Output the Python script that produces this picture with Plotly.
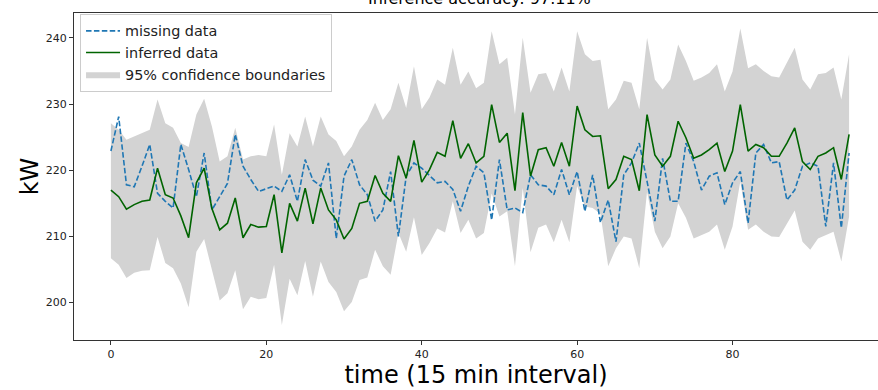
import plotly.graph_objects as go

# ---- data ----
time_idx = list(range(96))

missing_data = [
    222.9, 228.1, 217.8, 217.5, 220.6, 223.9, 216.5, 215.3, 214.3, 223.9, 220.1, 216.0, 222.6, 214.0, 216.0, 218.0, 225.4, 220.6, 218.6, 216.8, 217.2,
    217.6, 216.8, 219.3, 215.3, 221.6, 218.5, 217.6, 221.1, 209.7, 219.1, 221.6, 217.8, 216.3, 212.3, 214.0, 219.8, 210.0, 219.1, 221.1,
    220.3, 219.2, 218.1, 218.3, 217.1, 213.8, 217.6, 220.6, 219.6, 212.5, 221.6, 214.0, 214.3, 213.6, 219.3, 217.8, 217.6, 216.3, 220.1, 216.3, 219.8,
    213.8, 219.3, 212.1, 215.5, 209.2, 219.3, 221.1, 224.1, 218.3, 212.3, 221.8, 215.3, 215.3, 224.1, 221.3, 217.0, 219.1, 219.6, 214.8, 218.1, 219.8,
    212.0, 222.6, 223.9, 221.1, 221.3, 215.5, 217.0, 220.6, 221.1, 220.6, 211.5, 221.1, 211.3, 222.6,
]

inferred_data = [
    217.0, 216.0, 214.1, 214.8, 215.3, 215.5, 220.3, 216.3, 215.8, 213.1, 209.8, 218.1, 220.3, 214.2, 211.0, 212.0, 215.8, 209.8, 211.8, 211.4, 211.5,
    216.3, 207.5, 215.0, 212.3, 217.3, 211.9, 217.3, 214.0, 212.5, 209.6, 211.2, 215.0, 215.3, 219.2, 216.5, 215.3, 222.2, 218.8, 224.5,
    218.2, 220.1, 222.7, 222.1, 227.5, 221.8, 224.0, 221.1, 222.1, 229.9, 224.2, 225.6, 216.9, 228.7, 219.1, 223.1, 223.4, 220.6, 224.2, 220.6, 229.7,
    226.1, 225.1, 225.2, 217.2, 218.6, 222.1, 221.6, 216.9, 228.4, 222.3, 220.6, 222.1, 227.4, 224.9, 221.8, 222.3, 223.1, 224.1, 219.8, 222.9, 229.9,
    222.9, 223.9, 223.4, 222.1, 222.1, 224.1, 226.4, 221.3, 220.1, 222.1, 222.6, 223.4, 218.6, 225.4,
]

upper_bound = [
    227.1, 226.1, 224.6, 225.1, 225.6, 226.1, 230.7, 227.1, 226.4, 224.1, 223.5, 228.4, 230.8, 226.6, 221.3, 222.1, 226.4, 221.6, 222.1, 222.3, 222.1,
    226.9, 219.3, 225.6, 223.6, 228.1, 223.6, 228.1, 225.4, 224.4, 222.1, 223.6, 226.1, 227.6, 230.2, 227.6, 229.2, 233.2, 229.4, 235.7,
    229.2, 231.0, 233.7, 232.9, 238.5, 232.9, 234.9, 232.4, 233.2, 241.0, 236.0, 237.0, 228.4, 240.0, 231.7, 234.5, 234.7, 231.9, 235.5, 231.9, 241.0,
    237.5, 236.5, 236.7, 229.2, 230.7, 233.5, 233.2, 229.2, 240.0, 233.7, 232.2, 233.7, 239.0, 236.5, 233.5, 234.0, 234.7, 236.0, 231.9, 234.9, 241.4,
    235.4, 236.0, 235.0, 234.2, 234.0, 236.2, 238.5, 233.7, 232.2, 234.5, 234.7, 235.5, 230.7, 237.5,
]

lower_bound = [
    206.7, 205.7, 203.7, 204.5, 204.8, 204.9, 209.9, 206.0, 205.2, 202.9, 199.3, 207.7, 209.6, 204.9, 200.3, 201.4, 204.9, 199.0, 200.9, 200.5, 200.7,
    205.7, 196.6, 203.6, 201.1, 206.3, 200.9, 206.2, 203.1, 201.6, 198.7, 200.1, 203.4, 203.8, 208.0, 205.5, 204.2, 210.5, 207.7, 212.9,
    207.2, 209.0, 211.2, 210.6, 215.3, 210.5, 212.5, 209.7, 210.5, 216.5, 213.0, 213.8, 205.5, 217.3, 207.6, 211.3, 211.8, 209.1, 212.5, 209.1, 217.6,
    214.5, 214.3, 213.4, 205.5, 208.2, 210.0, 209.7, 205.2, 216.8, 210.7, 208.2, 210.0, 215.0, 212.8, 209.7, 210.2, 210.7, 211.8, 208.0, 211.5, 218.3,
    211.0, 211.8, 210.7, 210.0, 209.9, 212.0, 213.9, 209.2, 208.0, 209.7, 210.2, 210.7, 206.2, 213.0,
]

x_ticks = [0, 20, 40, 60, 80]
y_ticks = [200, 210, 220, 230, 240]
title_text = "Inference accuracy: 97.11%"

FONT = "DejaVu Sans"
BAND = "#d3d3d3"

fig = go.Figure()

# confidence band (upper edge, then lower edge filled to it)
fig.add_trace(go.Scatter(
    x=time_idx, y=upper_bound, mode="lines", line=dict(width=0, color=BAND),
    showlegend=False, hoverinfo="skip",
))
fig.add_trace(go.Scatter(
    x=time_idx, y=lower_bound, mode="lines", line=dict(width=0, color=BAND),
    fill="tonexty", fillcolor=BAND, name="95% confidence boundaries", legendrank=3,
))
fig.add_trace(go.Scatter(
    x=time_idx, y=missing_data, mode="lines", name="missing data",
    line=dict(color="#1f77b4", width=1.6, dash="5.5px,2.4px"), legendrank=1,
))
fig.add_trace(go.Scatter(
    x=time_idx, y=inferred_data, mode="lines", name="inferred data",
    line=dict(color="#006400", width=1.6), legendrank=2,
))

fig.add_annotation(
    text=title_text, xref="paper", yref="paper", x=0.5047, y=1 + 14 / 327,
    xanchor="center", yanchor="middle", showarrow=False,
    font=dict(family=FONT, size=16, color="#000"),
)

fig.update_layout(
    width=878, height=390,
    margin=dict(l=74, r=0, t=13, b=50),
    paper_bgcolor="white", plot_bgcolor="white",
    font=dict(family=FONT, color="#222"),
    showlegend=True,
    legend=dict(
        x=0.0075, y=0.997, xanchor="left", yanchor="top", traceorder="normal",
        bgcolor="rgba(255,255,255,0.85)", bordercolor="#cccccc", borderwidth=1,
        font=dict(family=FONT, size=14.4, color="#222"),
        tracegroupgap=0, itemwidth=34,
    ),
    xaxis=dict(
        range=[-4.75, 98.72], tickvals=x_ticks, ticks="outside", ticklen=4,
        tickcolor="#333", showgrid=False, zeroline=False, automargin=False,
        showline=True, linecolor="#333", linewidth=1, mirror=True,
        tickfont=dict(family=FONT, size=11, color="#222"),
        title=dict(text="time (15 min interval)", font=dict(family=FONT, size=24, color="#000"), standoff=2),
    ),
    yaxis=dict(
        range=[194.35, 243.75], tickvals=y_ticks, ticks="outside", ticklen=4,
        tickcolor="#333", showgrid=False, zeroline=False, automargin=False,
        showline=True, linecolor="#333", linewidth=1,
        tickfont=dict(family=FONT, size=11, color="#222"),
        title=dict(text="kW", font=dict(family=FONT, size=24, color="#000"), standoff=0),
    ),
)

# remove the default 8px page margin so the figure fills the window exactly
fig.write_html(
    "out.html",
    config={"displayModeBar": False},
    post_script="document.body.style.margin='0px';",
)
